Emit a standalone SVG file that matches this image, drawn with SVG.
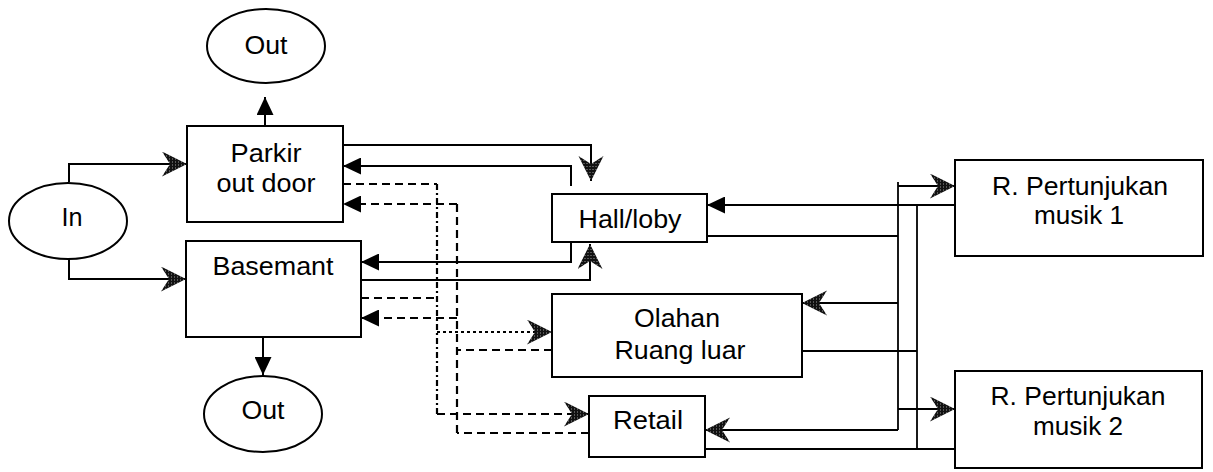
<svg xmlns="http://www.w3.org/2000/svg" width="1213" height="472" viewBox="0 0 1213 472">
  <style>
    .box { fill: #fff; stroke: #000; stroke-width: 2; }
    .lbl { font-family: "Liberation Sans", Arial, sans-serif; font-size: 25px; fill: #000; text-anchor: middle; }
    .ln { fill: none; stroke: #000; stroke-width: 2; }
    .thin { fill: none; stroke: #000; stroke-width: 1.8; }
    .dash { fill: none; stroke: #000; stroke-width: 2.2; stroke-dasharray: 8 5; }
    .dashdot { fill: none; stroke: #000; stroke-width: 2.2; stroke-dasharray: 6 3 2 3; }
    .dot { fill: none; stroke: #000; stroke-width: 2.2; stroke-dasharray: 3 3; }
    .solid-end { marker-end: url(#tri); }
    .chev-end { marker-end: url(#chev); }
  </style>
  <defs>
    <pattern id="stipple" patternUnits="userSpaceOnUse" width="3" height="3">
      <rect width="3" height="3" fill="#111"/>
      <rect x="1" y="1" width="1" height="1" fill="#999"/>
    </pattern>
    <marker id="tri" markerUnits="userSpaceOnUse" markerWidth="18" markerHeight="17" refX="18" refY="8.5" orient="auto">
      <path d="M0,0 L18,8.5 L0,17 Z" fill="#000"/>
    </marker>
    <marker id="chev" markerUnits="userSpaceOnUse" markerWidth="26" markerHeight="26" refX="25" refY="12.5" orient="auto">
      <path d="M0,0 L25,12.5 L0,25 L8,12.5 Z" fill="url(#stipple)"/>
    </marker>
  </defs>

  <!-- connectors -->
  <g id="connectors">
    <!-- entry and exit -->
    <path class="ln chev-end" d="M69,182 V164 H187"/>
    <path class="ln chev-end" d="M69,259 V279 H186"/>
    <path class="ln solid-end" d="M265,126 V97"/>
    <path class="ln solid-end" d="M263,337 V375"/>

    <!-- parkir / basemant with hall -->
    <path class="ln chev-end" d="M343,145 H591 V181"/>
    <path class="ln solid-end" d="M571,186 V166 H343"/>
    <path class="ln solid-end" d="M571,242 V262 H361"/>
    <path class="ln chev-end" d="M361,280 H590 V244"/>

    <!-- outgoing dashed trunk -->
    <path class="dash" d="M343,184 H437"/>
    <path class="dash" d="M361,298 H437"/>
    <path class="dashdot" d="M437,184 V414"/>
    <path class="dot chev-end" d="M437,332 H552"/>
    <path class="dash chev-end" d="M437,414 H589"/>

    <!-- returning dashed trunk -->
    <path class="dash" d="M457,204 V433"/>
    <path class="dash solid-end" d="M457,204 H343"/>
    <path class="dash solid-end" d="M457,318 H361"/>
    <path class="dash" d="M552,350 H457"/>
    <path class="dash" d="M589,433 H457"/>

    <!-- right-hand bus -->
    <path class="thin" d="M898,182 V430"/>
    <path class="thin" d="M917,205 V449"/>
    <path class="ln chev-end" d="M898,186 H955"/>
    <path class="ln solid-end" d="M955,205 H707"/>
    <path class="ln" d="M707,236 H898"/>
    <path class="ln chev-end" d="M898,303 H802"/>
    <path class="ln" d="M802,351 H917"/>
    <path class="ln chev-end" d="M898,409 H955"/>
    <path class="ln chev-end" d="M898,430 H705"/>
    <path class="ln" d="M705,449 H955"/>
  </g>

  <!-- nodes -->
  <g id="out-top">
    <ellipse class="box" cx="266" cy="46" rx="59" ry="37"/>
    <text class="lbl" x="266" y="54" textLength="43" lengthAdjust="spacingAndGlyphs">Out</text>
  </g>
  <g id="in">
    <ellipse class="box" cx="68" cy="221" rx="59" ry="38"/>
    <text class="lbl" x="72" y="226" textLength="21" lengthAdjust="spacingAndGlyphs">In</text>
  </g>
  <g id="parkir">
    <rect class="box" x="187" y="126" width="156" height="96"/>
    <text class="lbl" x="266" y="162" textLength="71" lengthAdjust="spacingAndGlyphs">Parkir</text>
    <text class="lbl" x="266" y="192" textLength="99" lengthAdjust="spacingAndGlyphs">out door</text>
  </g>
  <g id="basemant">
    <rect class="box" x="186" y="241" width="175" height="96"/>
    <text class="lbl" x="273" y="275" textLength="121" lengthAdjust="spacingAndGlyphs">Basemant</text>
  </g>
  <g id="out-bottom">
    <ellipse class="box" cx="263" cy="414" rx="59" ry="38"/>
    <text class="lbl" x="263" y="419" textLength="43" lengthAdjust="spacingAndGlyphs">Out</text>
  </g>
  <g id="hall">
    <rect class="box" x="552" y="194" width="155" height="48"/>
    <text class="lbl" x="630" y="228" textLength="103" lengthAdjust="spacingAndGlyphs">Hall/loby</text>
  </g>
  <g id="olahan">
    <rect class="box" x="552" y="294" width="250" height="83"/>
    <text class="lbl" x="677" y="327" textLength="86" lengthAdjust="spacingAndGlyphs">Olahan</text>
    <text class="lbl" x="680" y="359" textLength="131" lengthAdjust="spacingAndGlyphs">Ruang luar</text>
  </g>
  <g id="retail">
    <rect class="box" x="589" y="396" width="116" height="61"/>
    <text class="lbl" x="648" y="429" textLength="70" lengthAdjust="spacingAndGlyphs">Retail</text>
  </g>
  <g id="musik-1">
    <rect class="box" x="955" y="160" width="248" height="96"/>
    <text class="lbl" x="1080" y="195" textLength="176" lengthAdjust="spacingAndGlyphs">R. Pertunjukan</text>
    <text class="lbl" x="1079" y="224" textLength="90" lengthAdjust="spacingAndGlyphs">musik 1</text>
  </g>
  <g id="musik-2">
    <rect class="box" x="955" y="371" width="247" height="97"/>
    <text class="lbl" x="1078" y="405" textLength="175" lengthAdjust="spacingAndGlyphs">R. Pertunjukan</text>
    <text class="lbl" x="1078" y="435" textLength="90" lengthAdjust="spacingAndGlyphs">musik 2</text>
  </g>
</svg>
